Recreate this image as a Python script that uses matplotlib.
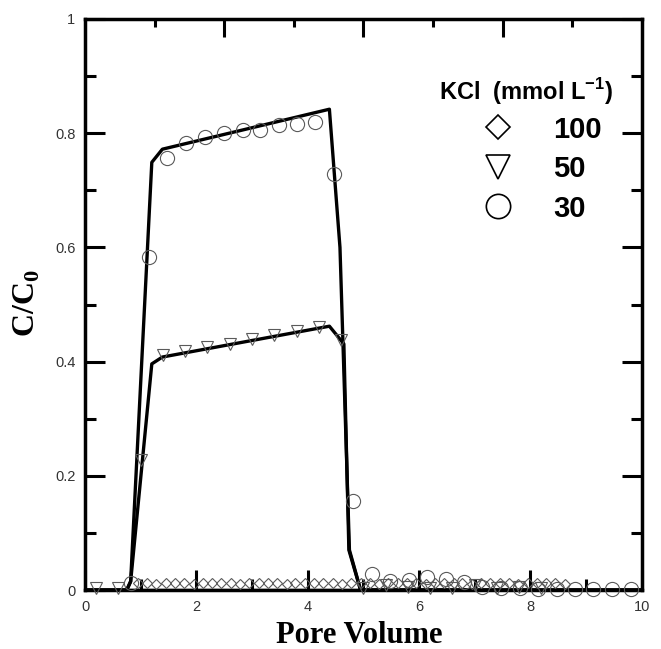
import matplotlib
matplotlib.use('Agg')
import matplotlib.pyplot as plt
import matplotlib.transforms as mtransforms
from matplotlib.markers import TICKDOWN
from matplotlib.ticker import FixedLocator

plt.rcParams['mathtext.fontset'] = 'custom'
plt.rcParams['mathtext.rm'] = 'Liberation Serif:bold'
plt.rcParams['mathtext.sf'] = 'Liberation Sans:bold'

##############################################################################
# DATA
##############################################################################
# KCl 30 mmol/L - circles
x30 = [0.82, 1.15, 1.48, 1.82, 2.15, 2.49, 2.83, 3.15, 3.48, 3.81, 4.14, 4.48,
       4.81, 5.16, 5.48, 5.82, 6.15, 6.48, 6.81, 7.14, 7.47, 7.81, 8.14, 8.47,
       8.80, 9.13, 9.46, 9.80]
y30 = [0.012, 0.584, 0.757, 0.783, 0.794, 0.801, 0.805, 0.806, 0.814, 0.816,
       0.819, 0.728, 0.156, 0.028, 0.015, 0.017, 0.023, 0.019, 0.014, 0.006,
       0.003, 0.003, 0.002, 0.002, 0.001, 0.001, 0.001, 0.002]

# KCl 50 mmol/L - triangles
x50 = [0.2, 0.6, 1.0, 1.4, 1.8, 2.2, 2.6, 3.0, 3.4, 3.8, 4.2, 4.6, 5.0, 5.4,
       5.8, 6.2, 6.6, 7.0, 7.4, 7.8, 8.2]
y50 = [0.003, 0.003, 0.228, 0.412, 0.418, 0.425, 0.431, 0.439, 0.446, 0.453,
       0.460, 0.437, 0.003, 0.008, 0.005, 0.003, 0.004, 0.008, 0.004, 0.006,
       0.003]

# KCl 100 mmol/L - diamonds
x100 = [0.95, 1.12, 1.28, 1.45, 1.62, 1.78, 1.95, 2.12, 2.28, 2.45, 2.62, 2.78,
        2.95, 3.12, 3.28, 3.45, 3.62, 3.78, 3.95, 4.12, 4.28, 4.45, 4.62, 4.78,
        4.95, 5.12, 5.28, 5.45, 5.62, 5.78, 5.95, 6.12, 6.28, 6.45, 6.62, 6.78,
        6.95, 7.12, 7.28, 7.45, 7.62, 7.78, 7.95, 8.12, 8.28, 8.45, 8.62]
y100 = [0.012, 0.012, 0.011, 0.012, 0.012, 0.012, 0.011, 0.012, 0.012, 0.012,
        0.012, 0.011, 0.012, 0.012, 0.012, 0.012, 0.011, 0.012, 0.012, 0.012,
        0.012, 0.012, 0.011, 0.012, 0.012, 0.012, 0.011, 0.012, 0.012, 0.012,
        0.012, 0.011, 0.012, 0.012, 0.012, 0.012, 0.011, 0.012, 0.012, 0.012,
        0.012, 0.011, 0.012, 0.012, 0.012, 0.012, 0.011]

# model curves
fit30_x = [0, 0.75, 0.82, 1.20, 1.39, 4.39, 4.58, 4.75, 4.95, 10]
fit30_y = [0, 0, 0.015, 0.749, 0.772, 0.842, 0.60, 0.07, 0, 0]
fit50_x = [0, 0.75, 0.82, 1.20, 1.39, 4.39, 4.65, 4.74, 4.95, 10]
fit50_y = [0, 0, 0.015, 0.396, 0.408, 0.462, 0.431, 0.07, 0, 0]
fit100_x = [0, 10]
fit100_y = [0, 0]

legend_labels = ['100', '50', '30']

# top edge has its own (unlabelled) tick spacing
top_major = [2.5, 5, 7.5]
top_minor = [1.25, 3.75, 6.25, 8.75]

##############################################################################
# FIGURE
##############################################################################
fig = plt.figure(figsize=(6.61, 6.49), dpi=100)
ax = fig.add_axes([85 / 661, 1 - 590 / 649, (641.7 - 85) / 661, (590 - 19) / 649])

lw_fit = 2.4
ax.plot(fit100_x, fit100_y, color='black', lw=lw_fit, zorder=2)
ax.plot(fit50_x, fit50_y, color='black', lw=lw_fit, zorder=2)
ax.plot(fit30_x, fit30_y, color='black', lw=lw_fit, zorder=2)

mec = '#5a5a5a'
ax.plot(x100, y100, 'D', ms=5.2, mfc='none', mec=mec, mew=0.8, zorder=3, clip_on=False)
ax.plot(x50, y50, 'v', ms=8.4, mfc='none', mec=mec, mew=0.8, zorder=3, clip_on=False)
ax.plot(x30, y30, 'o', ms=10.2, mfc='none', mec=mec, mew=0.8, zorder=3, clip_on=False)

ax.set_xlim(0, 10)
ax.set_ylim(0, 1)

# ticks
ax.xaxis.set_major_locator(FixedLocator([0, 2, 4, 6, 8, 10]))
ax.xaxis.set_minor_locator(FixedLocator([1, 3, 5, 7, 9]))
ax.yaxis.set_major_locator(FixedLocator([0, 0.2, 0.4, 0.6, 0.8, 1.0]))
ax.yaxis.set_minor_locator(FixedLocator([0.1, 0.3, 0.5, 0.7, 0.9]))
ax.set_yticklabels(['0', '0.2', '0.4', '0.6', '0.8', '1'])
ax.set_xticklabels(['0', '2', '4', '6', '8', '10'])
ax.tick_params(which='both', direction='in', width=2.2, top=False, right=True,
               labelsize=10.5, labelcolor='#333333', pad=7)
ax.tick_params(which='major', length=14.4)
ax.tick_params(which='minor', length=7.7)
for lab in ax.get_xticklabels() + ax.get_yticklabels():
    lab.set_fontfamily('Liberation Sans')

for s in ax.spines.values():
    s.set_linewidth(2.5)

# top ticks drawn as tick markers hanging from the top spine
top_trans = mtransforms.blended_transform_factory(ax.transData, ax.transAxes)
ax.plot(top_major, [1] * len(top_major), ls='none', marker=TICKDOWN, ms=13,
        mew=2.2, color='black', transform=top_trans, clip_on=False, zorder=4)
ax.plot(top_minor, [1] * len(top_minor), ls='none', marker=TICKDOWN, ms=6,
        mew=2.2, color='black', transform=top_trans, clip_on=False, zorder=4)

# axis labels
fig.text(359 / 661, 1 - 643 / 649, 'Pore Volume', ha='center', va='baseline',
         fontsize=22, fontweight='bold', fontfamily='Liberation Serif')
fig.text(27 / 661, 1 - 303 / 649, 'C/C$_\\mathrm{0}$', ha='center', va='center',
         rotation=90, fontsize=23, fontweight='bold', fontfamily='Liberation Serif')

# legend
ax.text(0.636, 0.859, 'KCl  (mmol L$^{\\mathsf{-1}}$)', transform=ax.transAxes,
        ha='left', va='baseline', fontsize=17, fontweight='bold',
        fontfamily='Liberation Sans')
leg_markers = ['D', 'v', 'o']
leg_ms = [12.2, 17.0, 17.5]
leg_y = [0.810, 0.741, 0.6725]
leg_text_y = [0.791, 0.7228, 0.6538]
for m, ms, yy, ty, lab in zip(leg_markers, leg_ms, leg_y, leg_text_y, legend_labels):
    ax.plot([0.742], [yy], m, ms=ms, mfc='none', mec='black', mew=1.2,
            transform=ax.transAxes, clip_on=False)
    ax.text(0.841, ty, lab, transform=ax.transAxes, ha='left', va='baseline',
            fontsize=21, fontweight='bold', fontfamily='Liberation Sans')

fig.savefig('out.png', dpi=100)
